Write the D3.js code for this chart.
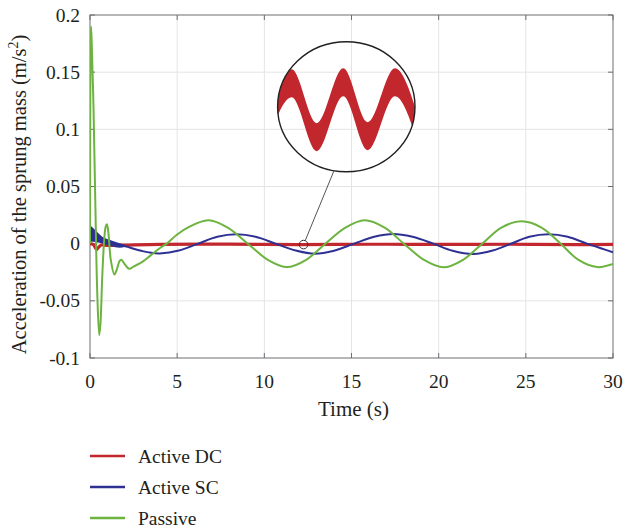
<!DOCTYPE html>
<html><head><meta charset="utf-8">
<script src="https://cdn.jsdelivr.net/npm/d3@7"></script>
<style>
body{margin:0;background:#fff}
svg text{font-family:"Liberation Serif","DejaVu Serif","Times New Roman",serif;fill:#231f20}
</style>
</head><body>
<svg id="chart" width="624" height="527" font-family="Liberation Serif, DejaVu Serif, serif"></svg>
<script>
// ---------------- data ----------------
const xTicks = [0, 5, 10, 15, 20, 25, 30];
const yTicks = [-0.1, -0.05, 0, 0.05, 0.1, 0.15, 0.2];
const yTickLabels = ["-0.1", "-0.05", "0", "0.05", "0.1", "0.15", "0.2"];
const seriesNames = ["Active DC", "Active SC", "Passive"];
const seriesColors = ["#c1272d", "#2e3192", "#6db33f"];

// Active DC (red)
const dcTime  = [0, 0.2, 0.38, 0.5, 0.65, 1.0, 2.0, 4.0, 8.0, 12.0, 16.0, 20.0, 24.0, 28.0, 30.0];
const dcValue = [0, -0.001, -0.005, -0.003, -0.0012, -0.0015, -0.0012, -0.0006, -0.0004, -0.0008, -0.0005, -0.0007, -0.0005, -0.0008, -0.0007];

// Active SC (blue) centre line
const scTime  = [0, 0.5, 1.0, 1.5, 2.0, 2.5, 3.0, 3.5, 4.0, 5.1, 6.2, 7.3, 8.4, 9.5, 10.65, 11.8, 12.9, 14.0, 15.15, 16.3, 17.4, 18.5, 19.7, 20.8, 22.0, 23.1, 24.15, 25.2, 26.3, 27.4, 28.5, 29.5, 30.0];
const scValue = [0.009, 0.006, 0.003, 0.0005, -0.002, -0.0045, -0.0065, -0.008, -0.0085, -0.006, 0, 0.006, 0.0082, 0.006, 0, -0.006, -0.0088, -0.0062, 0, 0.006, 0.0085, 0.006, 0, -0.0062, -0.009, -0.006, 0, 0.006, 0.0082, 0.006, 0, -0.005, -0.0075];
// Active SC high-frequency envelope at the start
const scBandTime  = [0, 0.3, 0.75, 1.2, 1.7, 2.0];
const scBandUpper = [0.016, 0.012, 0.0055, 0.002, -0.0005, -0.002];
const scBandLower = [0.002, 0.0015, 0.0, -0.002, -0.0035, -0.003];

// Passive (green)
const pasTime  = [0, 0.03, 0.06, 0.1, 0.2, 0.3, 0.42, 0.53, 0.6, 0.7, 0.8, 0.9, 0.97, 1.05, 1.2, 1.4, 1.55, 1.7, 1.8, 1.95, 2.25, 2.5, 2.75, 3.0, 3.5, 4.0, 4.4, 5.0, 5.6, 6.8, 7.9, 9.05, 10.2, 11.3, 12.4, 13.5, 14.65, 15.75, 16.9, 18.0, 19.15, 20.27, 21.4, 22.5, 23.6, 24.75, 25.9, 27.0, 28.0, 29.1, 30.0];
const pasValue = [0, 0.17, 0.19, 0.175, 0.12, 0.04, -0.045, -0.08, -0.07, -0.03, 0.0, 0.015, 0.017, 0.01, -0.015, -0.027, -0.022, -0.015, -0.014, -0.017, -0.022, -0.02, -0.018, -0.016, -0.01, -0.004, 0.0, 0.008, 0.0141, 0.0205, 0.0141, 0.0, -0.0141, -0.0205, -0.0141, 0.0, 0.0141, 0.0205, 0.0141, 0.0, -0.0141, -0.0207, -0.0141, 0.0, 0.0141, 0.0195, 0.0141, 0.0, -0.014, -0.0205, -0.0178];

// Zoomed inset (magnified Active DC), in inset units
const zoomPoint = [12.25, -0.0008];
const insetX     = [-1.18, -0.795, -0.431, -0.044, 0.311, 0.708, 1.073];
const insetUpper = [-0.255, 0.575, -0.255, 0.59, -0.24, 0.59, -0.255];
const insetLower = [-0.685, 0.145, -0.685, 0.16, -0.67, 0.16, -0.685];

// ---------------- chart ----------------
const FONT = "Liberation Serif, DejaVu Serif, serif";
const svg = d3.select("#chart");
const L = 90, R = 613, T = 15, B = 358;
const x = d3.scaleLinear().domain([0, 30]).range([L, R]);
const y = d3.scaleLinear().domain([-0.1, 0.2]).range([B, T]);

// grid
const grid = svg.append("g").attr("stroke", "#e4e4e4").attr("stroke-width", 1);
xTicks.slice(1, -1).forEach(t => grid.append("line").attr("x1", x(t)).attr("x2", x(t)).attr("y1", T).attr("y2", B));
yTicks.slice(1, -1).forEach(v => grid.append("line").attr("x1", L).attr("x2", R).attr("y1", y(v)).attr("y2", y(v)));

// box and inward ticks
const ax = svg.append("g").attr("stroke", "#6d6e71").attr("stroke-width", 1).attr("fill", "none");
ax.append("rect").attr("x", L).attr("y", T).attr("width", R - L).attr("height", B - T);
xTicks.forEach(t => {
  ax.append("line").attr("x1", x(t)).attr("x2", x(t)).attr("y1", B).attr("y2", B - 5);
  ax.append("line").attr("x1", x(t)).attr("x2", x(t)).attr("y1", T).attr("y2", T + 5);
});
yTicks.forEach(v => {
  ax.append("line").attr("x1", L).attr("x2", L + 5).attr("y1", y(v)).attr("y2", y(v));
  ax.append("line").attr("x1", R).attr("x2", R - 5).attr("y1", y(v)).attr("y2", y(v));
});

// tick labels
svg.append("g").selectAll("text").data(xTicks).join("text")
  .attr("x", d => x(d)).attr("y", 388).attr("text-anchor", "middle")
  .attr("font-family", FONT).attr("font-size", 19.5).text(d => d);
svg.append("g").selectAll("text").data(yTicks).join("text")
  .attr("x", 80).attr("y", d => y(d) + 6.5).attr("text-anchor", "end")
  .attr("font-family", FONT).attr("font-size", 19.5).text((d, i) => yTickLabels[i]);

// axis titles
svg.append("text").attr("x", (L + R) / 2 + 2).attr("y", 416).attr("text-anchor", "middle")
  .attr("font-family", FONT).attr("font-size", 21).text("Time (s)");
const yl = svg.append("text").attr("transform", `translate(26,${(T + B) / 2 + 8}) rotate(-90)`)
  .attr("text-anchor", "middle").attr("font-family", FONT).attr("font-size", 20.5);
yl.append("tspan").text("Acceleration of the sprung mass (m/s");
yl.append("tspan").attr("font-size", 14).attr("dy", -8).text("2");
yl.append("tspan").attr("dy", 8).text(")");

// series
const clip = svg.append("clipPath").attr("id", "plotclip");
clip.append("rect").attr("x", L).attr("y", T).attr("width", R - L).attr("height", B - T);
const plot = svg.append("g").attr("clip-path", "url(#plotclip)");

function mkLine() { return d3.line().x(d => x(d[0])).y(d => y(d[1])).curve(d3.curveCatmullRom.alpha(0.5)); }

// Active DC
plot.append("path").datum(dcTime.map((t, i) => [t, dcValue[i]]))
  .attr("d", mkLine()).attr("fill", "none").attr("stroke", seriesColors[0]).attr("stroke-width", 3.2);

// Active SC band + line
plot.append("path").datum(scBandTime.map((t, i) => [t, scBandUpper[i], scBandLower[i]]))
  .attr("d", d3.area().x(d => x(d[0])).y0(d => y(d[2])).y1(d => y(d[1])).curve(d3.curveMonotoneX))
  .attr("fill", seriesColors[1]);
plot.append("path").datum(scTime.map((t, i) => [t, scValue[i]]))
  .attr("d", mkLine()).attr("fill", "none").attr("stroke", seriesColors[1]).attr("stroke-width", 2);

// Passive
plot.append("path").datum(pasTime.map((t, i) => [t, pasValue[i]]))
  .attr("d", mkLine()).attr("fill", "none").attr("stroke", seriesColors[2]).attr("stroke-width", 2);

// inset
const cx = 346.3, cy = 106.7, rx = 68.7, ry = 65;
const ix = d3.scaleLinear().domain([-1, 1]).range([cx - rx, cx + rx]);
const iy = d3.scaleLinear().domain([-1, 1]).range([cy + ry, cy - ry]);
const ic = svg.append("clipPath").attr("id", "insetclip");
ic.append("ellipse").attr("cx", cx).attr("cy", cy).attr("rx", rx).attr("ry", ry);
svg.append("g").attr("clip-path", "url(#insetclip)")
  .append("path").datum(insetX.map((v, i) => [v, insetUpper[i], insetLower[i]]))
  .attr("d", d3.area().x(d => ix(d[0])).y0(d => iy(d[2])).y1(d => iy(d[1])).curve(d3.curveMonotoneX))
  .attr("fill", "#c1272d");
svg.append("ellipse").attr("cx", cx).attr("cy", cy).attr("rx", rx).attr("ry", ry)
  .attr("fill", "none").attr("stroke", "#231f20").attr("stroke-width", 1.4);

// connector and marker
const mx = x(zoomPoint[0]), my = y(zoomPoint[1]), mr = 4.3;
const ang = Math.atan2(cy + ry - my, 334 - mx);
svg.append("line").attr("x1", 334).attr("y1", cy + ry - 1)
  .attr("x2", mx + mr * Math.cos(ang)).attr("y2", my + mr * Math.sin(ang))
  .attr("stroke", "#555").attr("stroke-width", 1);
svg.append("circle").attr("cx", mx).attr("cy", my).attr("r", mr)
  .attr("fill", "none").attr("stroke", "#333").attr("stroke-width", 1);

// legend
const lg = svg.append("g");
seriesNames.forEach((n, i) => {
  const yy = 456 + i * 31;
  lg.append("line").attr("x1", 90).attr("x2", 125).attr("y1", yy).attr("y2", yy)
    .attr("stroke", seriesColors[i]).attr("stroke-width", 2.5);
  lg.append("text").attr("x", 138).attr("y", yy + 6.5)
    .attr("font-family", FONT).attr("font-size", 19.5).text(n);
});
</script>
</body></html>
